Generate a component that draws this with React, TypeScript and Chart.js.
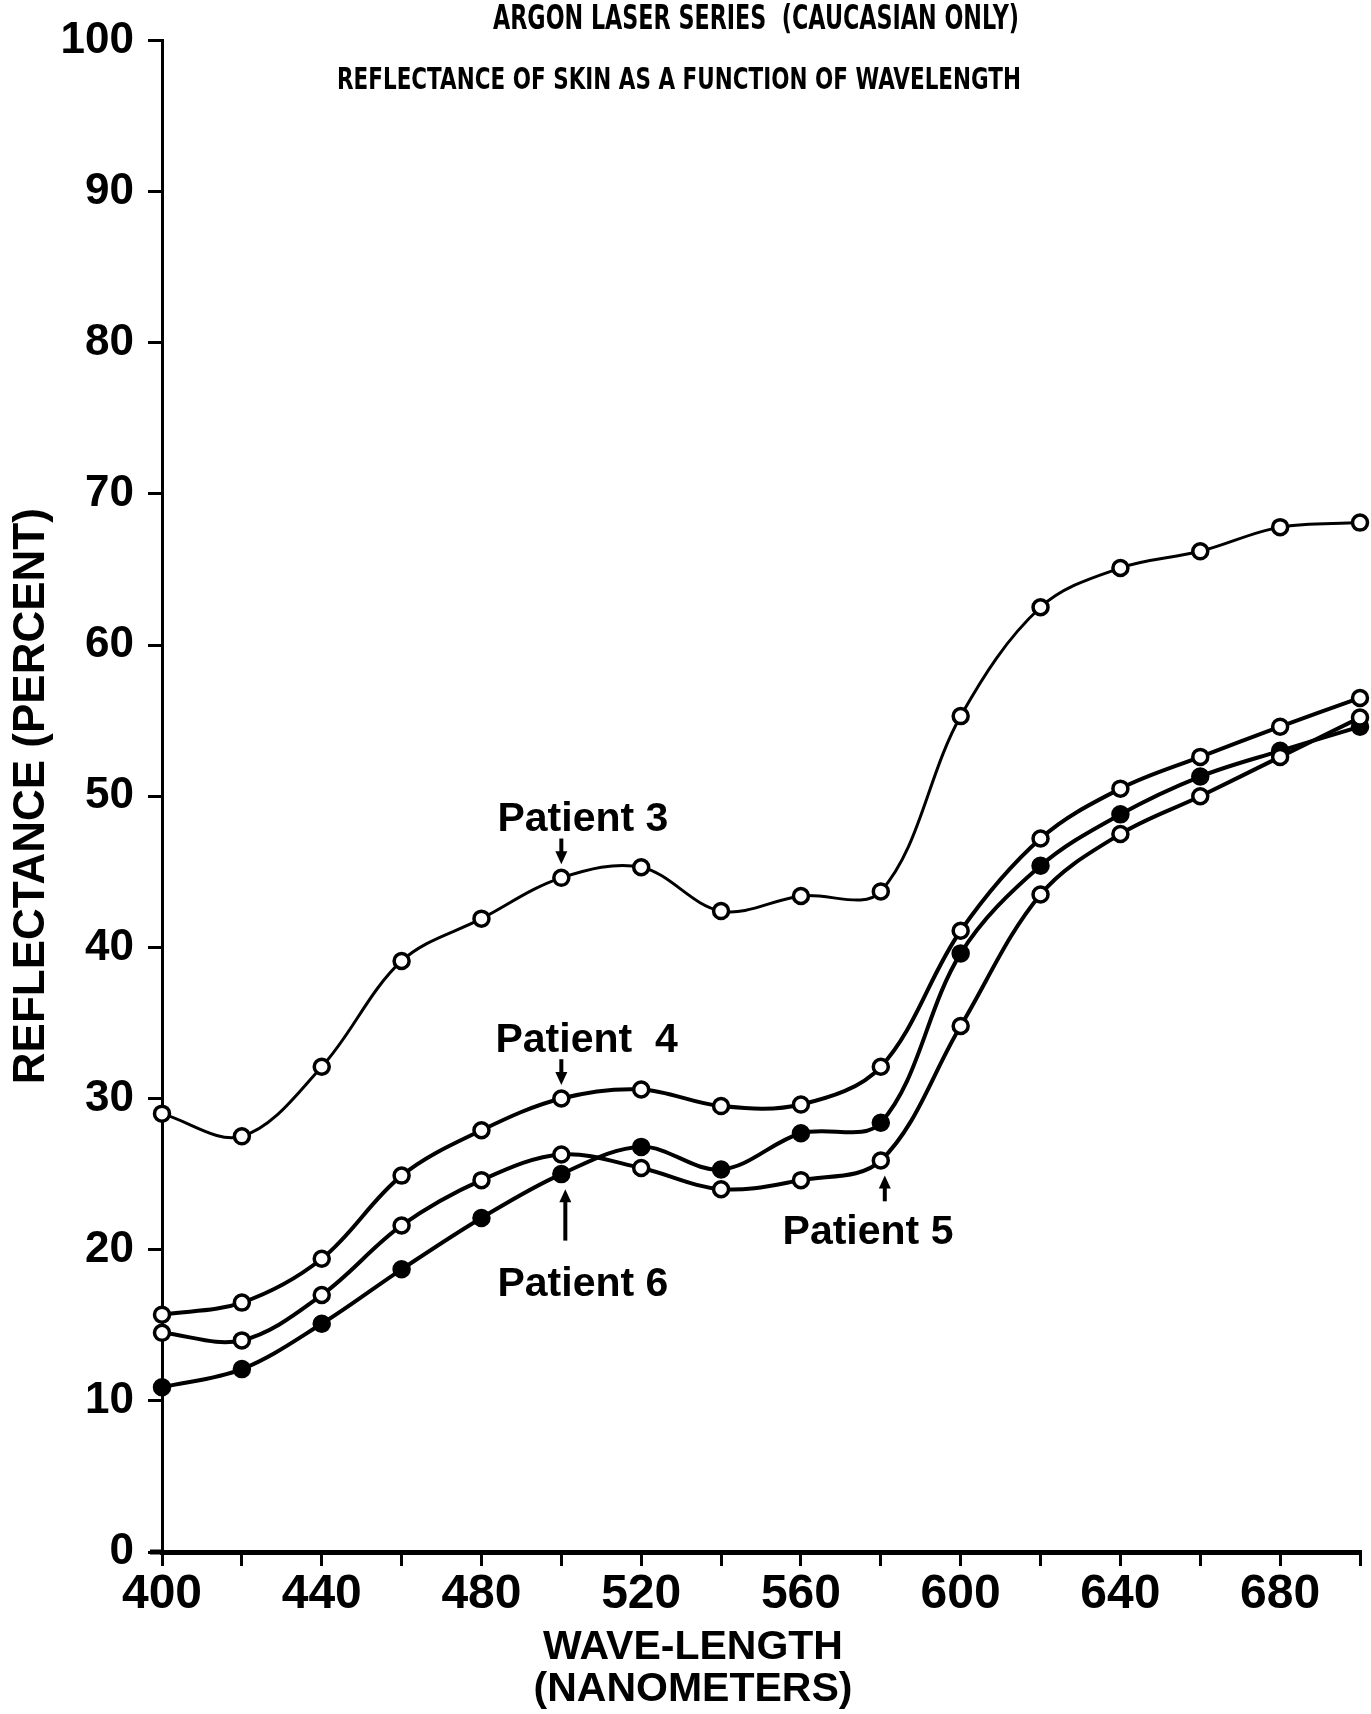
import React, { useEffect, useRef } from 'react';
import { Chart, registerables } from 'chart.js';

Chart.register(...registerables);

// ---- data ----
const wavelengths = [400, 420, 440, 460, 480, 500, 520, 540, 560, 580, 600, 620, 640, 660, 680, 700];
const patient3 = [29.0, 27.5, 32.1, 39.1, 41.9, 44.6, 45.3, 42.4, 43.4, 43.7, 55.3, 62.5, 65.1, 66.2, 67.8, 68.1];
const patient4 = [15.7, 16.5, 19.4, 24.9, 27.9, 30.0, 30.6, 29.5, 29.6, 32.1, 41.1, 47.2, 50.5, 52.6, 54.6, 56.5];
const patient5 = [14.5, 14.0, 17.0, 21.6, 24.6, 26.3, 25.4, 24.0, 24.6, 25.9, 34.8, 43.5, 47.5, 50.0, 52.6, 55.2];
const patient6 = [10.9, 12.1, 15.1, 18.7, 22.1, 25.0, 26.8, 25.3, 27.7, 28.4, 39.6, 45.4, 48.8, 51.3, 53.0, 54.6];
const seriesNames = ['Patient 3', 'Patient  4', 'Patient 5', 'Patient 6'];
const xTickLabels = ['400', '440', '480', '520', '560', '600', '640', '680'];
const titleLines = ['ARGON LASER SERIES  (CAUCASIAN ONLY)', 'REFLECTANCE OF SKIN AS A FUNCTION OF WAVELENGTH'];
const xAxisTitle = ['WAVE-LENGTH', '(NANOMETERS)'];
const yAxisTitle = 'REFLECTANCE (PERCENT)';

// ---- layout (positions in data units / pixels) ----
const labelLayout = [
  { series: 0, x: 484, y: 48.45, arrowX: 500, arrowFrom: 47.2, arrowTo: 45.5 },
  { series: 1, x: 483.5, y: 33.8, arrowX: 500, arrowFrom: 32.6, arrowTo: 30.9 },
  { series: 3, x: 484, y: 17.7, arrowX: 501, arrowFrom: 20.6, arrowTo: 24.0 },
  { series: 2, x: 555.4, y: 21.1, arrowX: 581, arrowFrom: 23.2, arrowTo: 24.9 },
];
const titleLayout = [
  { left: 493, cy: 20, width: 526, font: 'bold 33px "DejaVu Sans", sans-serif' },
  { left: 337, cy: 81, width: 684, font: 'bold 31px "DejaVu Sans", sans-serif' },
];
const xTitleLayout = { cx: 693, cy: [1648, 1690], font: 'bold 41px "Liberation Sans", Arial, sans-serif' };

const FONT = '"Liberation Sans", Arial, sans-serif';

function drawFitted(ctx: CanvasRenderingContext2D, text: string, left: number, cy: number, width: number, font: string) {
  ctx.save();
  ctx.font = font;
  const w = ctx.measureText(text).width;
  ctx.translate(left, cy);
  ctx.scale(width / w, 1);
  ctx.textAlign = 'left';
  ctx.textBaseline = 'middle';
  ctx.fillText(text, 0, 0);
  ctx.restore();
}

const annotPlugin = {
  id: 'annot',
  afterDatasetsDraw(chart: any) {
    const ctx: CanvasRenderingContext2D = chart.ctx;
    const xs = chart.scales.x;
    const ys = chart.scales.y;
    const area = chart.chartArea;
    ctx.save();
    ctx.fillStyle = '#000';
    ctx.strokeStyle = '#000';
    // short extension of the x-axis to the left of the y-axis
    ctx.lineWidth = 5;
    ctx.beginPath();
    ctx.moveTo(area.left - 12, area.bottom);
    ctx.lineTo(area.left, area.bottom);
    ctx.stroke();
    ctx.font = `bold 41px ${FONT}`;
    ctx.textBaseline = 'middle';
    ctx.textAlign = 'left';
    labelLayout.forEach((l) => {
      ctx.fillText(seriesNames[l.series], xs.getPixelForValue(l.x), ys.getPixelForValue(l.y));
      const ax = xs.getPixelForValue(l.arrowX);
      const y0 = ys.getPixelForValue(l.arrowFrom);
      const y1 = ys.getPixelForValue(l.arrowTo);
      const dir = Math.sign(y1 - y0);
      ctx.lineWidth = 4;
      ctx.beginPath();
      ctx.moveTo(ax, y0);
      ctx.lineTo(ax, y1 - dir * 6);
      ctx.stroke();
      ctx.beginPath();
      ctx.moveTo(ax, y1);
      ctx.lineTo(ax - 6, y1 - dir * 13);
      ctx.lineTo(ax + 6, y1 - dir * 13);
      ctx.closePath();
      ctx.fill();
    });
    titleLines.forEach((t, i) => {
      const tl = titleLayout[i];
      drawFitted(ctx, t, tl.left, tl.cy, tl.width, tl.font);
    });
    ctx.font = xTitleLayout.font;
    ctx.textAlign = 'center';
    ctx.textBaseline = 'middle';
    xAxisTitle.forEach((t, i) => ctx.fillText(t, xTitleLayout.cx, xTitleLayout.cy[i]));
    ctx.restore();
  },
};

function makeSet(label: string, vals: number[], filled: boolean, width: number) {
  return {
    label,
    data: wavelengths.map((x, i) => ({ x, y: vals[i] })),
    borderColor: '#000',
    borderWidth: width,
    pointRadius: 7.5,
    pointBorderWidth: 3.5,
    pointBackgroundColor: filled ? '#000' : '#fff',
    pointBorderColor: '#000',
    tension: 0.35,
    clip: false as any,
    fill: false,
  };
}

export default function App() {
  const ref = useRef<HTMLCanvasElement>(null);
  useEffect(() => {
    document.body.style.margin = '0';
    document.body.style.overflow = 'hidden';
    const chart = new Chart(ref.current as HTMLCanvasElement, {
      type: 'line',
      data: {
        datasets: [
          makeSet(seriesNames[0], patient3, false, 3),
          makeSet(seriesNames[1], patient4, false, 4),
          makeSet(seriesNames[2], patient5, false, 4),
          makeSet(seriesNames[3], patient6, true, 4),
        ],
      },
      options: {
        responsive: false,
        animation: false,
        devicePixelRatio: 1,
        layout: { padding: { left: 0, right: 2, top: 33, bottom: 0 } },
        plugins: { legend: { display: false }, tooltip: { enabled: false }, title: { display: false } },
        scales: {
          x: {
            type: 'linear',
            min: 400,
            max: 700,
            afterFit: (s: any) => { s.height = 162; },
            ticks: {
              stepSize: 20,
              autoSkip: false,
              maxRotation: 0,
              padding: 0,
              color: '#000',
              font: { family: FONT, size: 48, weight: 'bold' },
              callback: (v: any) => (xTickLabels.includes(String(v)) ? String(v) : ''),
            },
            grid: { display: true, drawOnChartArea: false, drawTicks: true, tickLength: 14, color: '#000', lineWidth: 3 },
            border: { display: true, color: '#000', width: 5 },
          },
          y: {
            type: 'linear',
            min: 0,
            max: 100,
            afterFit: (s: any) => { s.width = 162; },
            ticks: {
              stepSize: 10,
              padding: 14,
              color: '#000',
              font: { family: FONT, size: 44, weight: 'bold' },
            },
            grid: { display: true, drawOnChartArea: false, drawTicks: true, tickLength: 14, color: '#000', lineWidth: 3 },
            border: { display: true, color: '#000', width: 3 },
            title: {
              display: true,
              text: yAxisTitle,
              color: '#000',
              padding: { top: 5, bottom: 0 },
              font: { family: FONT, size: 44, weight: 'bold' },
            },
          },
        },
      },
      plugins: [annotPlugin],
    } as any);
    return () => chart.destroy();
  }, []);
  return (
    <div style={{ position: 'absolute', left: 0, top: 0, width: 1371, height: 1714, background: '#fff' }}>
      <canvas ref={ref} width={1371} height={1714} style={{ display: 'block' }} />
    </div>
  );
}
